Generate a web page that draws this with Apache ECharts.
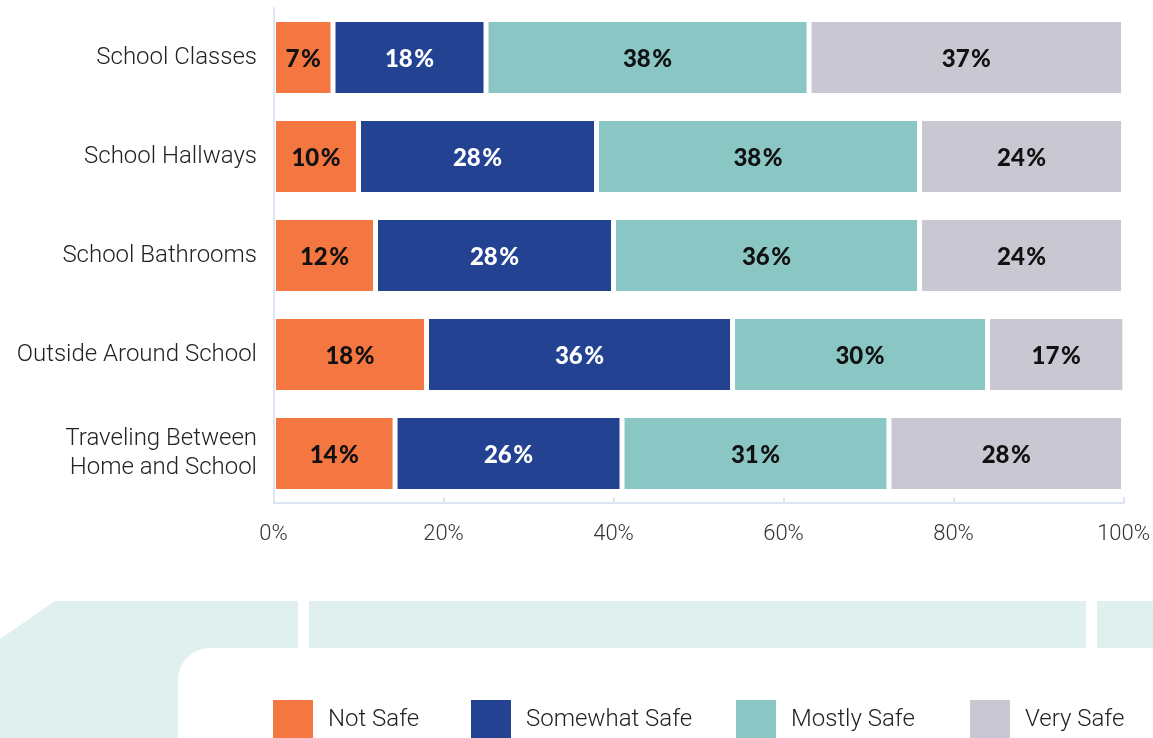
<!DOCTYPE html>
<html>
<head>
<meta charset="utf-8">
<script src="https://cdn.jsdelivr.net/npm/echarts@6/dist/echarts.min.js"></script>
<style>
  html, body { margin: 0; padding: 0; background: #fff; }
  #chart { width: 1153px; height: 738px; }
</style>
</head>
<body>
<div id="chart"></div>
<script>
let chart = echarts.init(document.getElementById('chart'))

const places = ['School Classes', 'School Hallways', 'School Bathrooms', 'Outside Around School', 'Traveling Between\nHome and School']
const names = ['Not Safe', 'Somewhat Safe', 'Mostly Safe', 'Very Safe']
const colors = ['#F47641', '#234292', '#8AC6C4', '#C9C8D2']
const labelColors = ['#111', '#fff', '#111', '#111']

// printed percentages
const notSafe = [7, 10, 12, 18, 14]
const somewhatSafe = [18, 28, 28, 36, 26]
const mostlySafe = [38, 38, 36, 30, 31]
const verySafe = [37, 24, 24, 17, 28]
// bar lengths (last row is drawn a bit wider than its labels)
const notSafeLen = [7, 10, 12, 18, 14.3]
const somewhatSafeLen = [18, 28, 28, 36, 26.7]
const mostlySafeLen = [38, 38, 36, 30, 31.4]
const verySafeLen = [37, 24, 24, 17, 27.6]
const ticks = [0, 20, 40, 60, 80, 100]

const printed = [notSafe, somewhatSafe, mostlySafe, verySafe]
const lengths = [notSafeLen, somewhatSafeLen, mostlySafeLen, verySafeLen]
const legendLeft = [273, 471, 736, 970]

const teal = '#E0F0EF'
const axisColor = '#DEE4F1'

let option = {
    animation: false,
    grid: {
        left: 273.5,
        right: 28,
        top: 8,
        height: 495
    },
    graphic: [
        {
            type: 'polygon',
            shape: { points: [[0, 639], [55, 601], [1153, 601], [1153, 738], [0, 738]] },
            style: { fill: teal }
        },
        { type: 'rect', shape: { x: 298, y: 598, width: 11, height: 52 }, style: { fill: '#fff' } },
        { type: 'rect', shape: { x: 1086, y: 598, width: 11, height: 52 }, style: { fill: '#fff' } },
        {
            type: 'rect',
            shape: { x: 178, y: 648, width: 1100, height: 200, r: 32 },
            style: { fill: '#fff' }
        }
    ],
    legend: names.map((n, i) => ({
        data: [n],
        left: legendLeft[i],
        top: 700,
        padding: 0,
        itemWidth: 40,
        itemHeight: 40,
        icon: 'rect',
        selectedMode: false,
        itemStyle: { borderWidth: 0 },
        textStyle: {
            fontFamily: 'Roboto',
            fontWeight: 300,
            fontSize: 24,
            color: '#222',
            padding: [0, 0, 0, 10]
        }
    })),
    xAxis: {
        type: 'value',
        min: 0,
        max: 100,
        interval: 20,
        axisLine: { show: true, lineStyle: { color: axisColor, width: 2 } },
        axisTick: { show: true, inside: true, length: 6, lineStyle: { color: axisColor, width: 2 } },
        splitLine: { show: false },
        axisLabel: {
            margin: 20,
            fontFamily: 'Roboto',
            fontWeight: 300,
            fontSize: 22,
            color: '#333',
            formatter: v => ticks.includes(v) ? v + '%' : ''
        }
    },
    yAxis: {
        type: 'category',
        inverse: true,
        data: places,
        offset: 2.5,
        z: 5,
        axisLine: { show: true, lineStyle: { color: axisColor, width: 2 } },
        axisTick: { show: false },
        axisLabel: {
            margin: 14,
            fontFamily: 'Roboto',
            fontWeight: 300,
            fontSize: 24,
            lineHeight: 29,
            color: '#222'
        }
    },
    series: names.map((n, i) => ({
        name: n,
        type: 'bar',
        stack: 'total',
        barCategoryGap: '23%',
        data: lengths[i],
        itemStyle: {
            color: colors[i],
            borderColor: '#fff',
            borderWidth: 2.5
        },
        label: {
            show: true,
            position: 'inside',
            offset: [0, 2],
            fontFamily: 'Lato',
            fontWeight: 900,
            fontSize: 24,
            color: labelColors[i],
            formatter: p => printed[i][p.dataIndex] + '\u200A%'
        }
    }))
}

chart.setOption(option)
</script>
</body>
</html>
